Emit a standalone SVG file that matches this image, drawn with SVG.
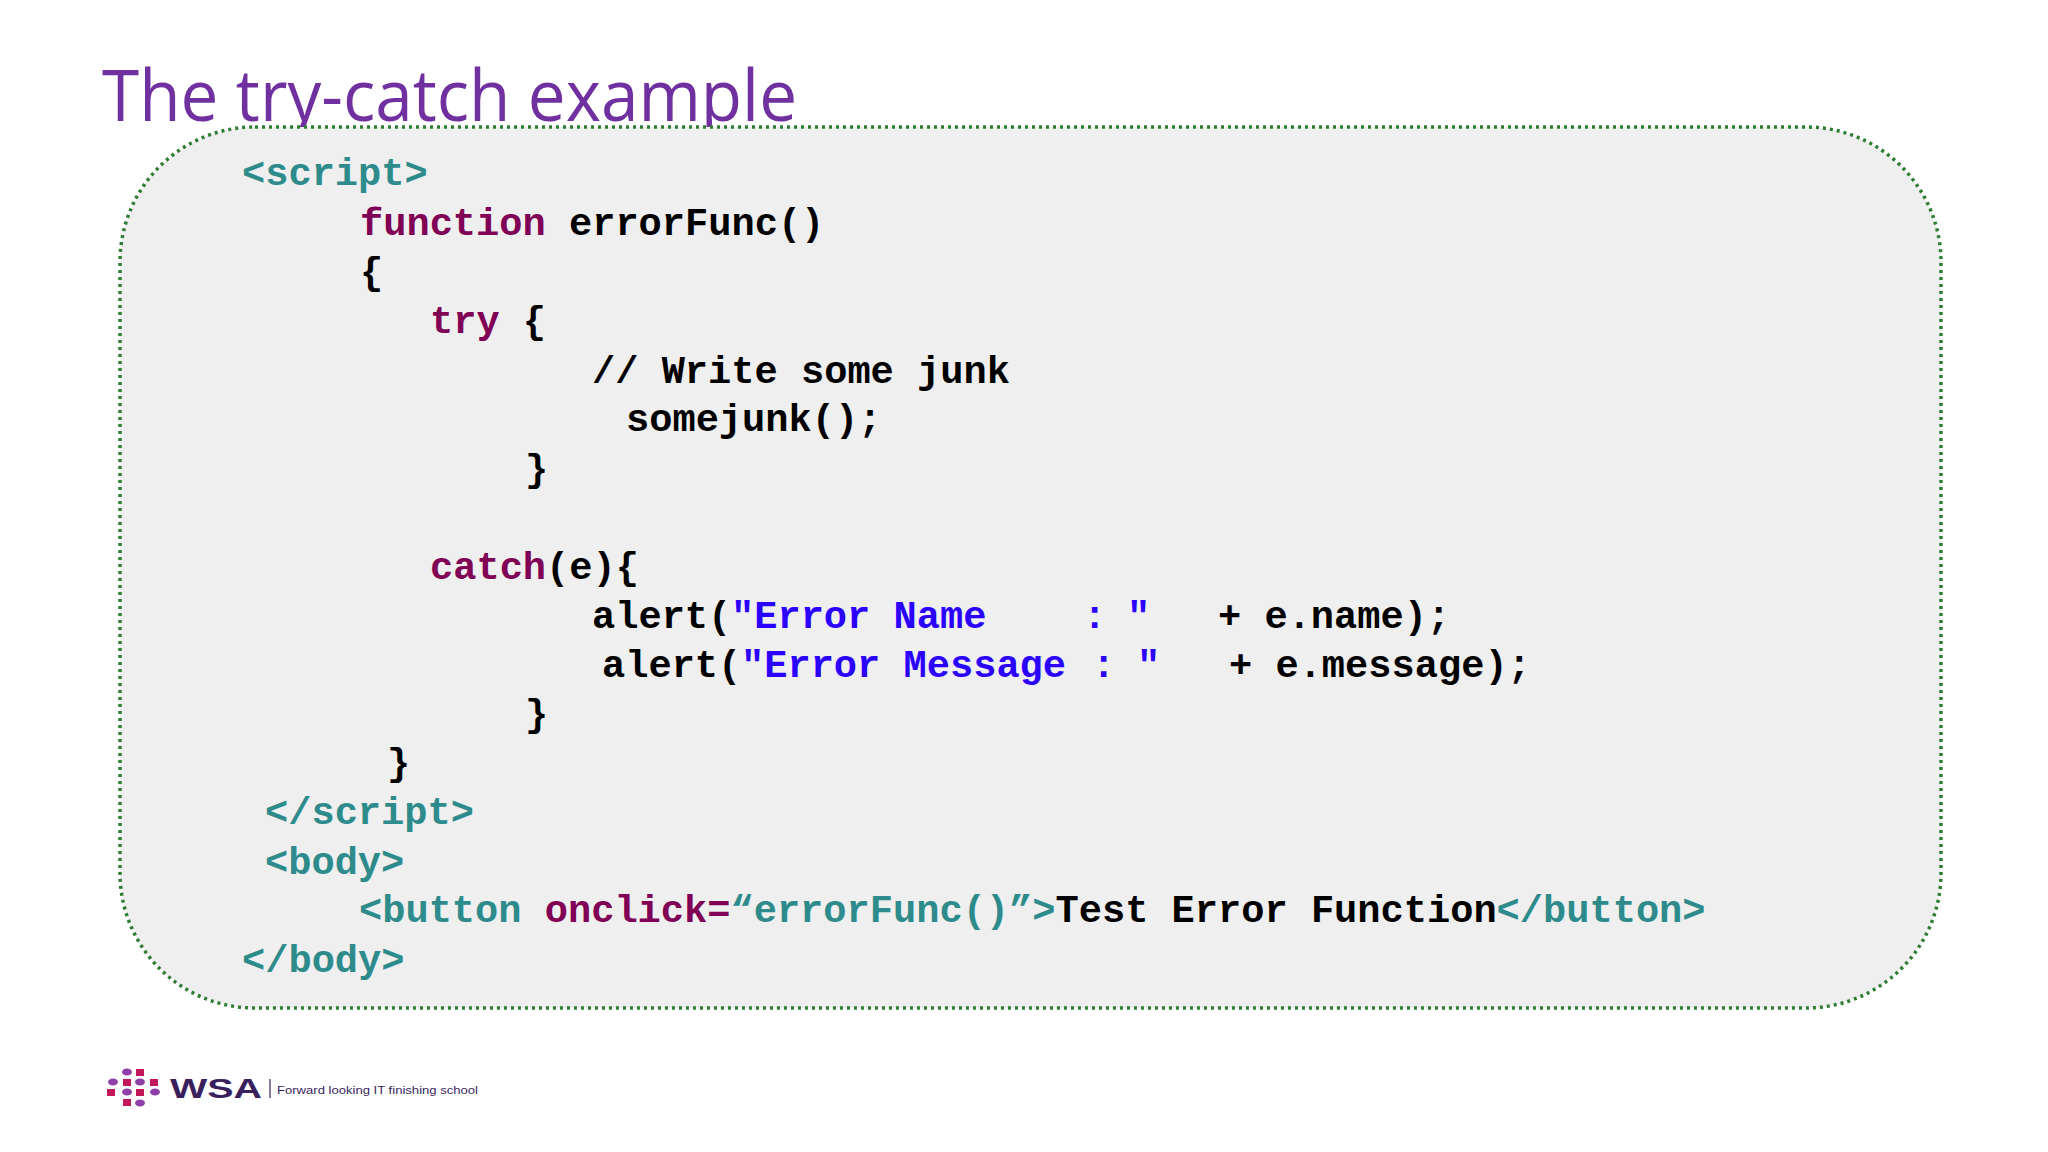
<svg xmlns="http://www.w3.org/2000/svg" width="2048" height="1152" viewBox="0 0 2048 1152">
<style>
.c{font-family:"Liberation Mono","Courier New",monospace;font-weight:bold;font-size:38.7px;fill:#000}
.t{fill:#2E8B8B}.k{fill:#7F0055}.s{fill:#2A00FF}
.p{fill:#C2185B}.v{fill:#8E3FA8}
</style>
<rect width="2048" height="1152" fill="#fff"/>
<text x="102" y="121" font-family="'Open Sans','Liberation Sans',sans-serif" font-size="72" fill="#7030A0" textLength="695" lengthAdjust="spacingAndGlyphs">The try-catch example</text>
<g id="codebox">
<rect x="120" y="127" width="1821" height="881" rx="135" fill="#EFEFEF" stroke="#2E7D32" stroke-width="3.5" stroke-dasharray="3 4"/>
<text class="c" xml:space="preserve">
<tspan x="242" y="185" class="t">&lt;script&gt;</tspan>
<tspan x="360" y="235"><tspan class="k">function</tspan> errorFunc()</tspan>
<tspan x="360" y="284">{</tspan>
<tspan x="430" y="333"><tspan class="k">try</tspan> {</tspan>
<tspan x="592" y="383">// Write some junk</tspan>
<tspan x="626" y="431">somejunk();</tspan>
<tspan x="525" y="481">}</tspan>
<tspan x="430" y="579"><tspan class="k">catch</tspan>(e){</tspan>
<tspan x="592" y="628">alert(</tspan><tspan x="731" y="628" class="s">"Error Name</tspan><tspan x="1083" y="628" class="s">:</tspan><tspan x="1127" y="628" class="s">"</tspan><tspan x="1218" y="628">+ e.name);</tspan>
<tspan x="602" y="677">alert(</tspan><tspan x="741" y="677" class="s">"Error Message</tspan><tspan x="1092" y="677" class="s">:</tspan><tspan x="1137" y="677" class="s">"</tspan><tspan x="1229" y="677">+ e.message);</tspan>
<tspan x="525" y="726">}</tspan>
<tspan x="387" y="775">}</tspan>
<tspan x="265" y="824" class="t">&lt;/script&gt;</tspan>
<tspan x="265" y="874" class="t">&lt;body&gt;</tspan>
<tspan x="359" y="922"><tspan class="t">&lt;button </tspan><tspan class="k">onclick=</tspan><tspan class="t">“errorFunc()”&gt;</tspan>Test Error Function<tspan class="t">&lt;/button&gt;</tspan></tspan>
<tspan x="242" y="972" class="t">&lt;/body&gt;</tspan>
</text>
</g>
<g id="logo">
<ellipse class="v" cx="127" cy="1072" rx="5" ry="3.5"/><rect class="p" x="136" y="1069" width="8" height="7"/>
<ellipse class="v" cx="113" cy="1082" rx="5" ry="3.5"/><rect class="p" x="123" y="1079" width="8" height="7"/><ellipse class="v" cx="140" cy="1082" rx="5" ry="3.5"/><rect class="p" x="150" y="1079" width="8" height="7"/>
<rect class="p" x="107" y="1089" width="8" height="7"/><ellipse class="v" cx="127" cy="1092" rx="5" ry="3.5"/><rect class="p" x="136" y="1089" width="8" height="7"/><ellipse class="v" cx="155" cy="1092" rx="5" ry="3.5"/>
<rect class="p" x="123" y="1099" width="8" height="7"/><ellipse class="v" cx="140" cy="1103" rx="5" ry="3.5"/>
<text x="170" y="1098" font-family="'Liberation Sans',sans-serif" font-weight="bold" font-size="27" fill="#3A1F5D" textLength="92" lengthAdjust="spacingAndGlyphs">WSA</text>
<line x1="270" y1="1079" x2="270" y2="1098" stroke="#3A1F5D" stroke-width="1.2"/>
<text x="277" y="1094" font-family="'Liberation Sans',sans-serif" font-size="11" fill="#3A1F5D" textLength="201" lengthAdjust="spacingAndGlyphs">Forward looking IT finishing school</text>
</g>
</svg>
